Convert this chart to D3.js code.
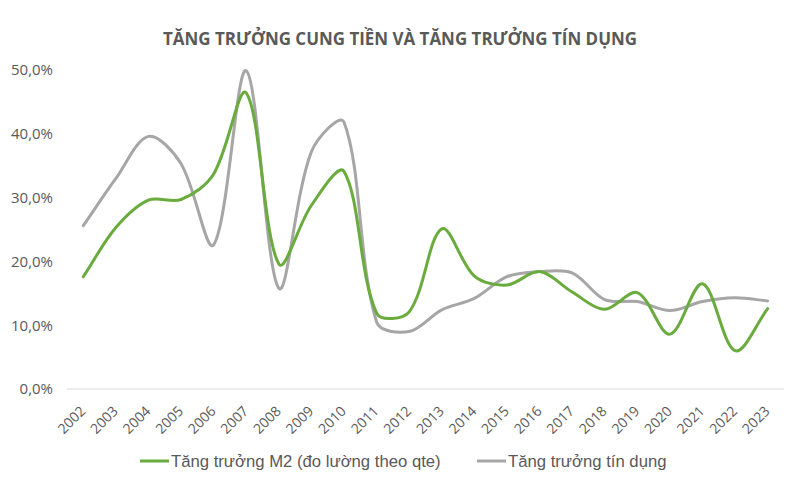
<!DOCTYPE html>
<html>
<head>
<meta charset="utf-8">
<script src="https://cdn.jsdelivr.net/npm/d3@7"></script>
<style>
  html, body { margin: 0; padding: 0; background: #fff; }
  svg { display: block; }
</style>
</head>
<body>
<svg id="chart" width="800" height="500"></svg>
<script>
const years = ["2002","2003","2004","2005","2006","2007","2008","2009","2010","2011","2012",
               "2013","2014","2015","2016","2017","2018","2019","2020","2021","2022","2023"];
const m2Growth = [17.6, 25.3, 29.6, 29.7, 33.7, 46.4, 19.6, 28.8, 34.1, 11.9, 12.1,
                  25.1, 17.7, 16.3, 18.4, 15.2, 12.5, 15.1, 8.6, 16.5, 6.0, 12.6];
const creditGrowth = [25.6, 33.0, 39.6, 35.3, 22.6, 49.9, 15.8, 37.2, 41.8, 10.5, 9.0,
                      12.4, 14.2, 17.6, 18.4, 18.2, 14.0, 13.7, 12.3, 13.7, 14.3, 13.8];
const yTicks = [0, 10, 20, 30, 40, 50];
const seriesNames = ["Tăng trưởng M2 (đo lường theo qte)", "Tăng trưởng tín dụng"];
const title = "TĂNG TRƯỞNG CUNG TIỀN VÀ TĂNG TRƯỞNG TÍN DỤNG";

const svg = d3.select("#chart");
const textColor = "#595959";
const colors = ["#6aab3d", "#a6a6a6"];

const x = d3.scaleBand().domain(years).range([67, 784]);
const y = d3.scaleLinear().domain([0, 50]).range([389, 70]);
const xc = d => x(d) + x.bandwidth() / 2;

// Spreadsheet-style smoothing (distance-weighted Bezier)
function curveSmooth(context) {
  let pts;
  return {
    areaStart() {}, areaEnd() {},
    lineStart() { pts = []; },
    point(px, py) { pts.push([+px, +py]); },
    lineEnd() {
      const n = pts.length;
      if (!n) return;
      context.moveTo(pts[0][0], pts[0][1]);
      const dist = (a, b) => Math.hypot(b[0] - a[0], b[1] - a[1]);
      for (let i = 0; i < n - 1; i++) {
        const p0 = pts[Math.max(0, i - 1)], p1 = pts[i], p2 = pts[i + 1], p3 = pts[Math.min(n - 1, i + 2)];
        const d01 = dist(p0, p1), d12 = dist(p1, p2), d23 = dist(p2, p3);
        const f1 = (d01 + d12) > 0 ? d12 / (d01 + d12) / 3 : 0;
        const f2 = (d12 + d23) > 0 ? d12 / (d12 + d23) / 3 : 0;
        const c1 = [p1[0] + (p2[0] - p0[0]) * f1, p1[1] + (p2[1] - p0[1]) * f1];
        const c2 = [p2[0] - (p3[0] - p1[0]) * f2, p2[1] - (p3[1] - p1[1]) * f2];
        context.bezierCurveTo(c1[0], c1[1], c2[0], c2[1], p2[0], p2[1]);
      }
    }
  };
}

// Title
svg.append("text")
  .attr("x", 400).attr("y", 45)
  .attr("text-anchor", "middle")
  .attr("font-family", "'Open Sans', sans-serif")
  .attr("font-weight", "bold")
  .attr("font-size", 17)
  .attr("fill", textColor)
  .attr("textLength", 474)
  .attr("lengthAdjust", "spacingAndGlyphs")
  .text(title);

// Y axis (labels only)
const yAxis = d3.axisLeft(y).tickValues(yTicks).tickSize(0).tickPadding(0)
  .tickFormat(d => d3.format(".1f")(d).replace(".", ",") + "%");
const gy = svg.append("g").attr("transform", "translate(53,0)").call(yAxis);
gy.select(".domain").remove();
gy.selectAll("text")
  .attr("font-family", "'Open Sans', sans-serif")
  .attr("font-size", 15)
  .attr("fill", textColor);

// baseline
svg.append("line")
  .attr("x1", x.range()[0]).attr("x2", x.range()[1])
  .attr("y1", y(0)).attr("y2", y(0))
  .attr("stroke", "#d9d9d9").attr("stroke-width", 1);

// X axis
const xAxis = d3.axisBottom(x).tickSize(0).tickPadding(0);
const gx = svg.append("g").attr("transform", `translate(0,${y(0)})`).call(xAxis);
gx.select(".domain").remove();
gx.selectAll("text")
  .attr("font-family", "'Open Sans', sans-serif")
  .attr("font-size", 14)
  .attr("fill", textColor)
  .attr("text-anchor", "end")
  .attr("dy", 0)
  .attr("transform", "translate(3,23) rotate(-45)");

// Lines
const line = d3.line()
  .x((d, i) => xc(years[i]))
  .y(d => y(d))
  .curve(curveSmooth);

[creditGrowth, m2Growth].forEach((s, k) => {
  svg.append("path")
    .datum(s)
    .attr("d", line)
    .attr("fill", "none")
    .attr("stroke", k === 0 ? colors[1] : colors[0])
    .attr("stroke-width", 3)
    .attr("stroke-linecap", "round")
    .attr("stroke-linejoin", "round");
});

// Legend
const legendX = [140, 477];
seriesNames.forEach((name, i) => {
  const g = svg.append("g").attr("transform", `translate(${legendX[i]},461)`);
  g.append("line").attr("x1", 0).attr("x2", 29).attr("y1", 0).attr("y2", 0)
    .attr("stroke", colors[i]).attr("stroke-width", 3);
  g.append("text").attr("x", 31).attr("y", 6)
    .attr("font-family", "'Liberation Sans', Arial, sans-serif")
    .attr("font-size", 16.7)
    .attr("fill", textColor)
    .text(name);
});
</script>
</body>
</html>
